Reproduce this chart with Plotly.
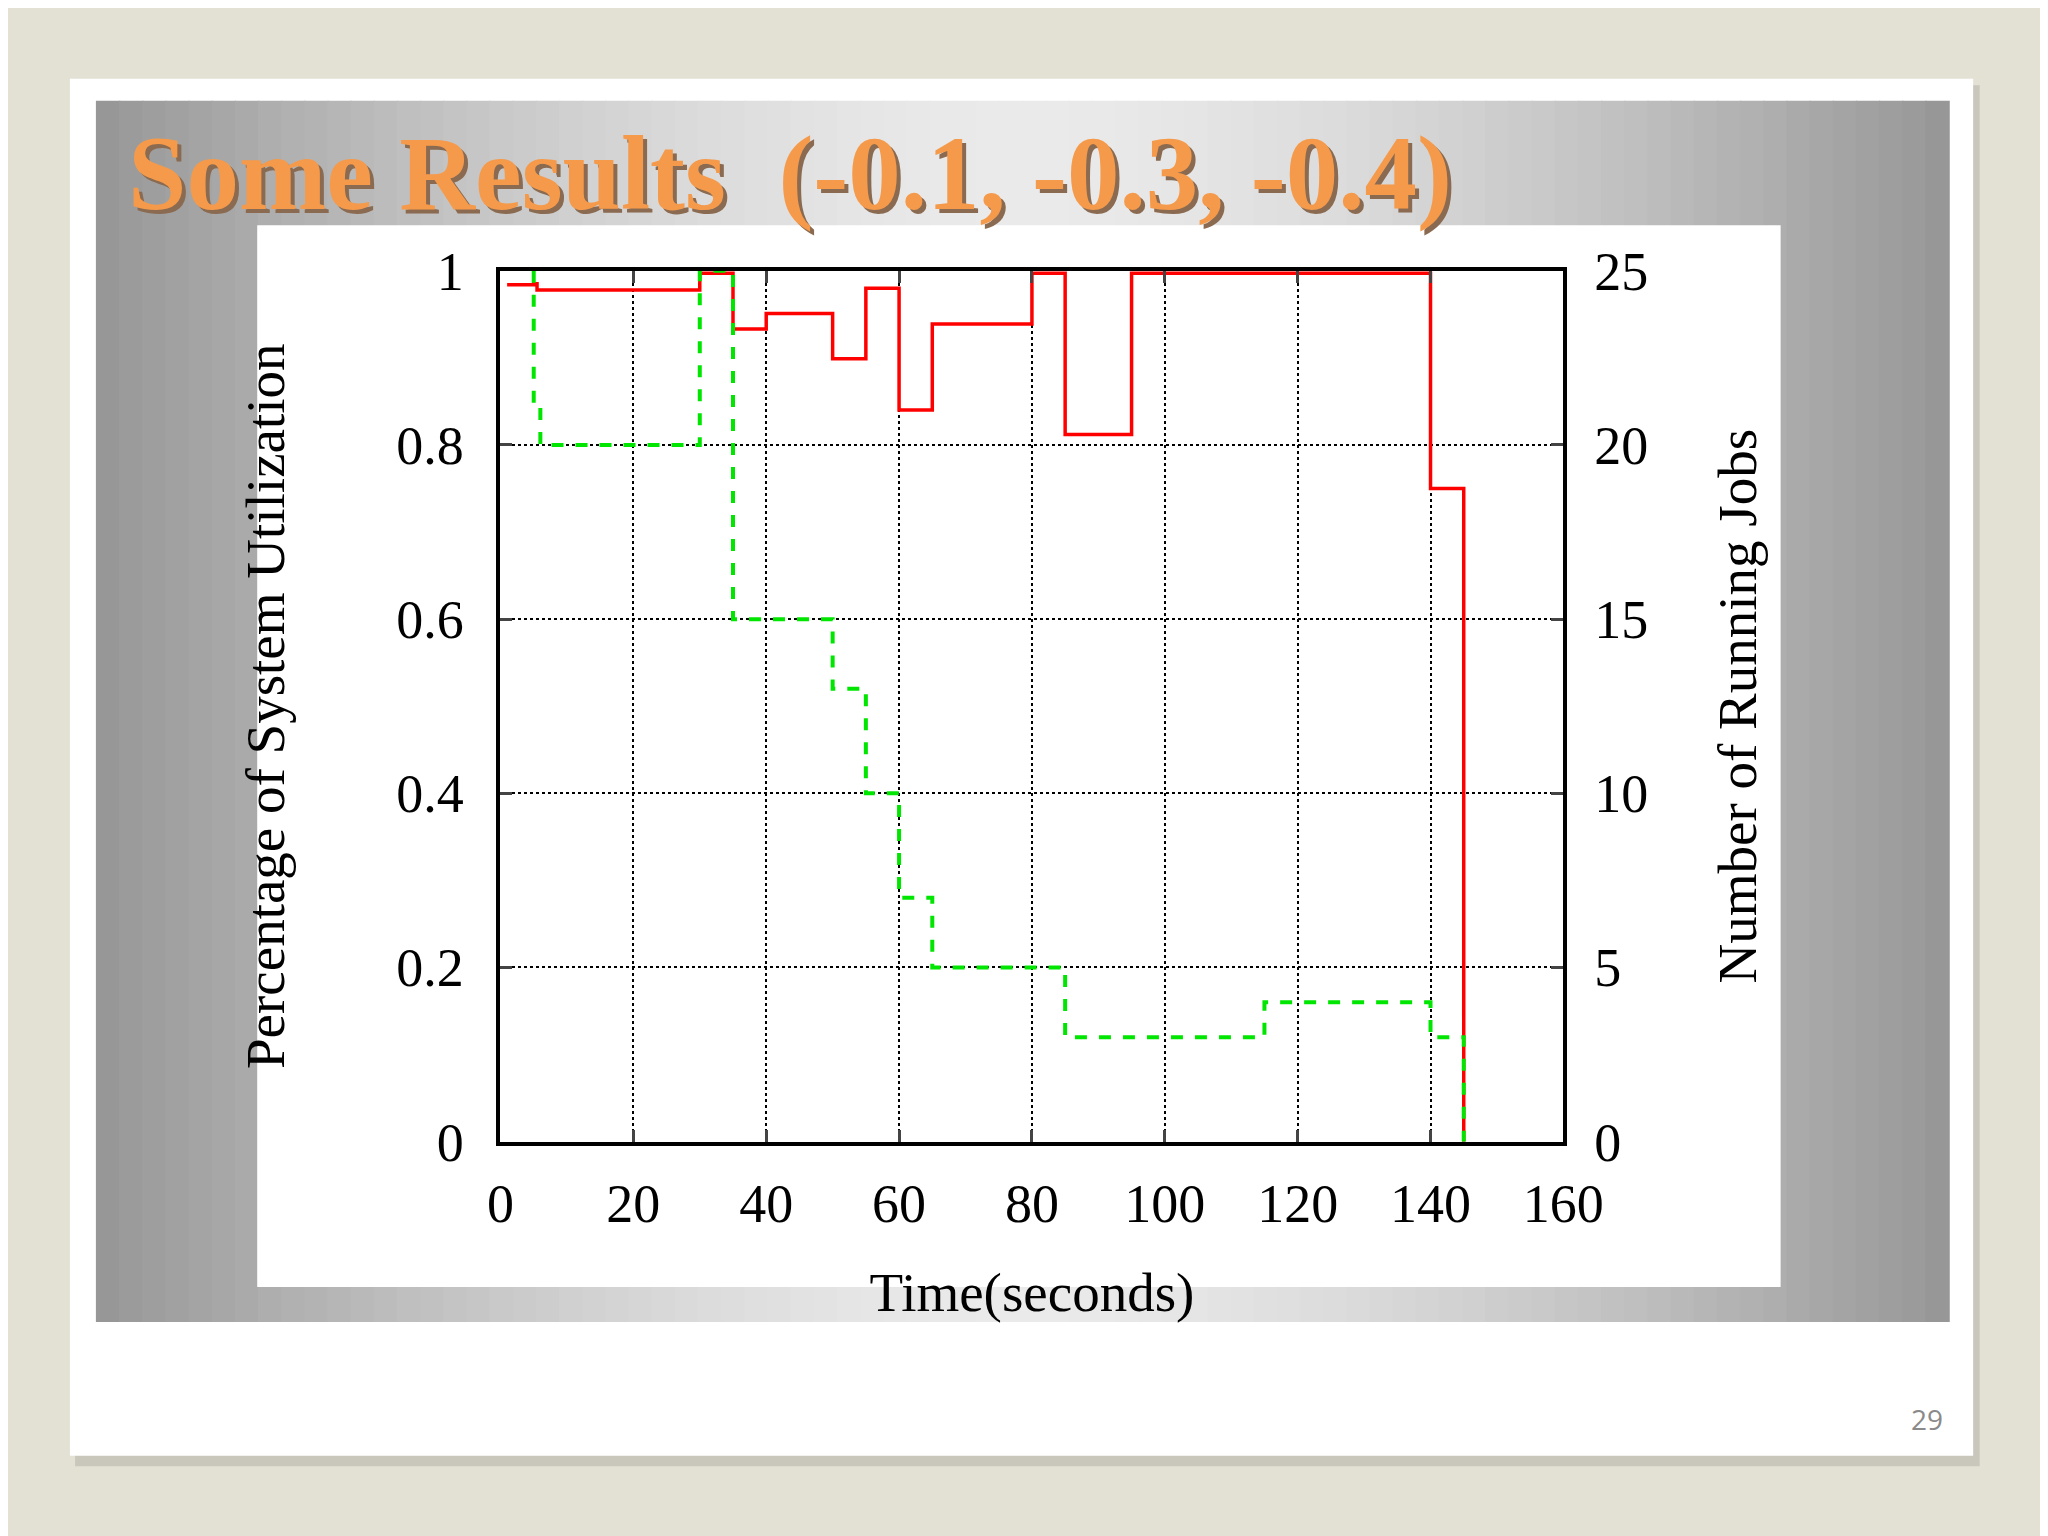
import plotly.graph_objects as go

time_util = [1, 5, 5.5, 30, 35, 40, 50, 55, 60, 65, 80, 85, 95, 140, 145, 145]
utilization = [0.984, 0.985, 0.978, 0.997, 0.933, 0.951, 0.899, 0.98, 0.84, 0.939, 0.997, 0.812, 0.997, 0.75, 0.0, 0.0]
time_jobs = [5, 6, 30, 35, 50, 55, 60, 65, 85, 115, 140, 145, 145]
running_jobs = [21, 20, 25, 15, 13, 10, 7, 5, 3, 4, 3, 0, 0]
x_ticks = [0, 20, 40, 60, 80, 100, 120, 140, 160]
y_ticks = [0, 0.2, 0.4, 0.6, 0.8, 1]
y2_ticks = [0, 5, 10, 15, 20, 25]

W, H = 2048, 1536
def rx(d): return (d - 15.2) / 0.9775 * W / 1568
def ry(d): return (d - 24.9) / 0.967 * H / 1176
def fx(d): return rx(d) / W
def fy(d): return 1 - ry(d) / H

fig = go.Figure()
fig.add_trace(go.Scatter(x=[5]+time_jobs, y=[25]+running_jobs, yaxis="y2", mode="lines", line_shape="hv",
                         line=dict(color="#00e600", width=4, dash="dash"), showlegend=False))
fig.add_trace(go.Scatter(x=time_util, y=utilization, mode="lines", line_shape="hv",
                         line=dict(color="#ff0000", width=3.5), showlegend=False))

shapes = []
shapes.append(dict(type="rect", xref="paper", yref="paper", x0=fx(56), x1=fx(1520), y0=fy(1126), y1=fy(62),
                   fillcolor="#c9c6bc", line_width=0, layer="below"))
shapes.append(dict(type="rect", xref="paper", yref="paper", x0=fx(52), x1=fx(1515), y0=fy(1118), y1=fy(57),
                   fillcolor="white", line_width=0, layer="below"))
n = 80
for i in range(n):
    t = (i + 0.5) / n
    v = int(150 + 85 * (1 - abs(2 * t - 1) ** 1.6))
    x0 = 72 + (1496 - 72) * i / n
    x1 = 72 + (1496 - 72) * (i + 1) / n + 1
    shapes.append(dict(type="rect", xref="paper", yref="paper", x0=fx(x0), x1=fx(x1), y0=fy(1015), y1=fy(74),
                       fillcolor=f"rgb({v},{v},{v})", line_width=0, layer="below"))
shapes.append(dict(type="rect", xref="paper", yref="paper", x0=fx(196), x1=fx(1367), y0=fy(988), y1=fy(170),
                   fillcolor="white", line_width=0, layer="below"))

axis_common = dict(ticks="inside", ticklen=12, tickwidth=3, zeroline=False)
fig.update_layout(
    width=W, height=H, margin=dict(l=0, r=0, t=0, b=0),
    paper_bgcolor="#e3e0d4", plot_bgcolor="white", shapes=shapes,
    font=dict(family="Liberation Serif", color="black", size=46),
    xaxis=dict(domain=[fx(383), fx(1200)], range=[0, 160], tickvals=x_ticks, showline=True, linewidth=4,
               linecolor="black", mirror="ticks", showgrid=True, gridcolor="black", griddash="dot", gridwidth=1.5,
               title=dict(text="Time(seconds)", standoff=40), tickfont=dict(size=54), ticklabelstandoff=12,
               **axis_common),
    yaxis=dict(domain=[fy(876), fy(205)], range=[0, 1], tickvals=y_ticks, ticktext=["0", "0.2", "0.4", "0.6", "0.8", "1"],
               showline=True, linewidth=4, linecolor="black", mirror=True,
               showgrid=True, gridcolor="black", griddash="dot", gridwidth=1.5, tickfont=dict(size=54),
               ticklabelstandoff=22, title=dict(text="Percentage of System Utilization", standoff=95), **axis_common),
    yaxis2=dict(overlaying="y", side="right", anchor="x", range=[0, 25], tickvals=y2_ticks, showgrid=False,
                tickfont=dict(size=54), ticklabelstandoff=30,
                title=dict(text="Number of Running Jobs", standoff=70), **axis_common),
    annotations=[
        dict(xref="paper", yref="paper", x=fx(98), y=fy(133), xanchor="left", yanchor="middle", showarrow=False,
             text="<b>Some Results  (-0.1, -0.3, -0.4)</b>", font=dict(family="Liberation Serif", size=105, color="#8a6a50")),
        dict(xref="paper", yref="paper", x=fx(95), y=fy(130), xanchor="left", yanchor="middle", showarrow=False,
             text="<b>Some Results  (-0.1, -0.3, -0.4)</b>", font=dict(family="Liberation Serif", size=105, color="#f59a4a")),
        dict(xref="paper", yref="paper", x=fx(1493), y=fy(1090), xanchor="right", yanchor="middle", showarrow=False,
             text="29", font=dict(family="Open Sans", size=28, color="#8a8a8a")),
    ],
)
fig.write_html("out.html")
